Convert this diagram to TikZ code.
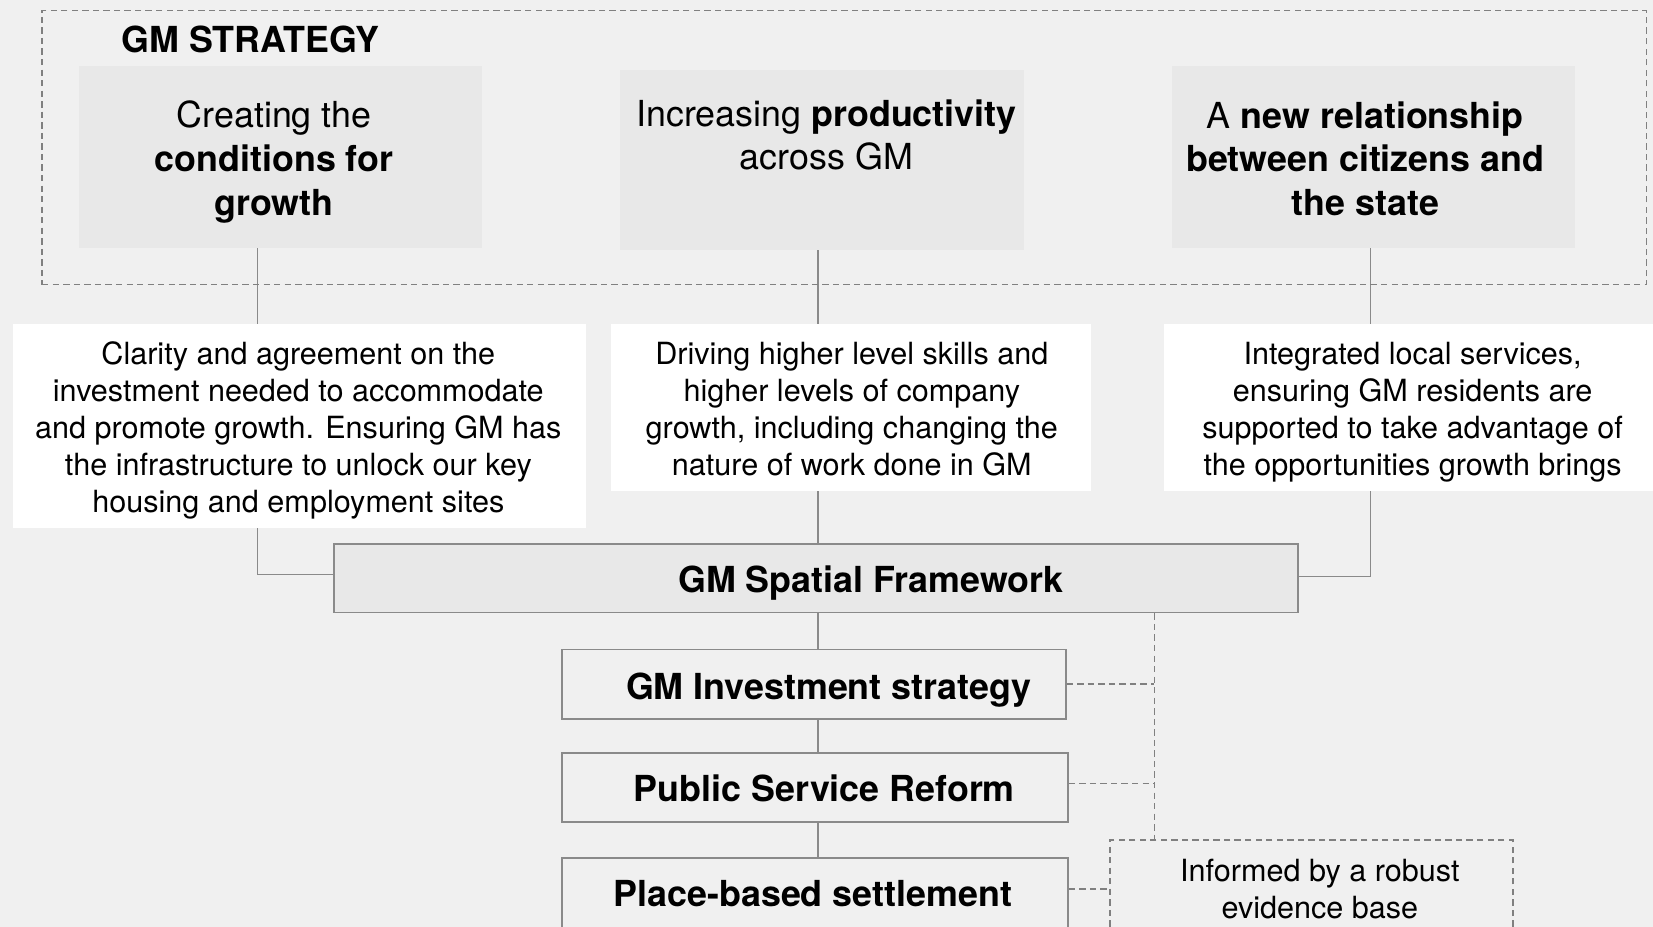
\documentclass[tikz,border=0pt]{standalone}
\usepackage{fontspec}
\setmainfont{TeX Gyre Heros}
\usetikzlibrary{calc}
\definecolor{bgc}{HTML}{F0F0F0}
\definecolor{boxc}{HTML}{E8E8E8}
\definecolor{linec}{HTML}{8A8A8A}
\definecolor{dashcol}{HTML}{808080}
\pgfdeclarelayer{bglayer}
\pgfdeclarelayer{connlayer}
\pgfsetlayers{bglayer,connlayer,main}
\begin{document}
\begin{tikzpicture}[x=1pt,y=-1pt,
  topbox/.style={fill=boxc, draw=none, inner sep=0pt},
  whitebox/.style={fill=white, draw=none, inner sep=0pt},
  framebox/.style={fill=boxc, draw=linec, line width=1.6pt, inner sep=0pt},
  plainbox/.style={fill=bgc, draw=linec, line width=1.6pt, inner sep=0pt},
  dashbox/.style={draw=dashcol, line width=1.5pt, dash pattern=on 6pt off 4pt, inner sep=0pt},
  conn/.style={draw=linec, line width=1.3pt},
  dconn/.style={draw=dashcol, line width=1.5pt, dash pattern=on 6pt off 4pt},
  toptext/.style={align=center, font=\fontsize{34}{41.5}\selectfont, inner sep=0pt},
  bodytext/.style={align=center, font=\fontsize{29}{35}\selectfont, inner sep=0pt},
  headtext/.style={font=\fontsize{34}{41}\selectfont\bfseries, inner sep=0pt},
]
\begin{pgfonlayer}{bglayer}
\fill[bgc] (0,0) rectangle (1568,879);
\end{pgfonlayer}
\useasboundingbox (0,0) rectangle (1568,879);

% outer strategy frame
\node[dashbox, minimum width=1522pt, minimum height=260pt] (strat) at (801,140) {};
\node[headtext, anchor=west] (stratlabel) at (115,37) {GM STRATEGY};

% top boxes
\node[topbox, minimum width=382pt, minimum height=172pt] (t1) at (266,149) {};
\node[topbox, minimum width=383pt, minimum height=171pt] (t2) at (779.5,151.5) {};
\node[topbox, minimum width=382pt, minimum height=172pt] (t3) at (1303,149) {};
\node[toptext] (t1txt) at (260,153.5) {Creating the\\\textbf{conditions for}\\\textbf{growth}};
\node[toptext] (t2txt) at (784,128) {Increasing \textbf{productivity}\\across GM};
\node[toptext] (t3txt) at (1295,150.5) {A \textbf{new relationship}\\\textbf{between citizens and}\\\textbf{the state}};

% white description boxes
\node[whitebox, minimum width=544pt, minimum height=194pt] (w1) at (284,404) {};
\node[whitebox, minimum width=455pt, minimum height=159pt] (w2) at (807.5,386.5) {};
\node[whitebox, minimum width=470pt, minimum height=159pt] (w3) at (1339,386.5) {};
\node[bodytext] (w1txt) at (283,408.5) {Clarity and agreement on the\\investment needed to accommodate\\and promote growth. Ensuring GM has\\the infrastructure to unlock our key\\housing and employment sites};
\node[bodytext] (w2txt) at (808,388) {Driving higher level skills and\\higher levels of company\\growth, including changing the\\nature of work done in GM};
\node[bodytext] (w3txt) at (1340,391) {Integrated local services,\\ensuring GM residents are\\supported to take advantage of\\the opportunities growth brings};

% spatial framework and stack
\node[framebox, minimum width=914pt, minimum height=65pt] (sf) at (774,548.5) {};
\node[headtext] (sftxt) at (826,553) {GM Spatial Framework};
\node[plainbox, minimum width=478pt, minimum height=66pt] (gis) at (772,649) {};
\node[headtext] (gistxt) at (786,654.5) {GM Investment strategy};
\node[plainbox, minimum width=480pt, minimum height=66pt] (psr) at (773,747) {};
\node[headtext] (psrtxt) at (782,747.5) {Public Service Reform};
\node[plainbox, minimum width=480pt, minimum height=66pt] (pbs) at (773,847) {};
\node[headtext] (pbstxt) at (771,848) {Place-based settlement};
\node[dashbox, minimum width=382pt, minimum height=90pt] (ev) at (1244,842) {};
\node[bodytext] (evtxt) at (1252,843.5) {Informed by a robust\\evidence base};

% connector guides
\coordinate (vx) at (776,0);
\coordinate (lx1) at (244,0);
\coordinate (lx3) at (1300,0);
\coordinate (dx) at (1095,0);

\begin{pgfonlayer}{connlayer}
\draw[conn] (t1.south -| lx1) |- ([yshift=3.5pt]sf.west);
\draw[conn] (t2.south -| vx) -- (sf.north -| vx);
\draw[conn] (t3.south -| lx3) |- ([yshift=1.5pt]sf.east);
\draw[conn] (sf.south -| vx) -- (gis.north -| vx);
\draw[conn] (gis.south -| vx) -- (psr.north -| vx);
\draw[conn] (psr.south -| vx) -- (pbs.north -| vx);
\draw[dconn] (sf.south -| dx) -- (ev.north -| dx);
\draw[dconn] (gis.east) -- (gis.east -| dx);
\draw[dconn] ([yshift=4pt]psr.east) -- ([yshift=4pt]psr.east -| dx);
\draw[dconn] ([yshift=4pt]pbs.east) -- ([yshift=4pt]pbs.east -| ev.west);
\end{pgfonlayer}
\end{tikzpicture}
\end{document}
